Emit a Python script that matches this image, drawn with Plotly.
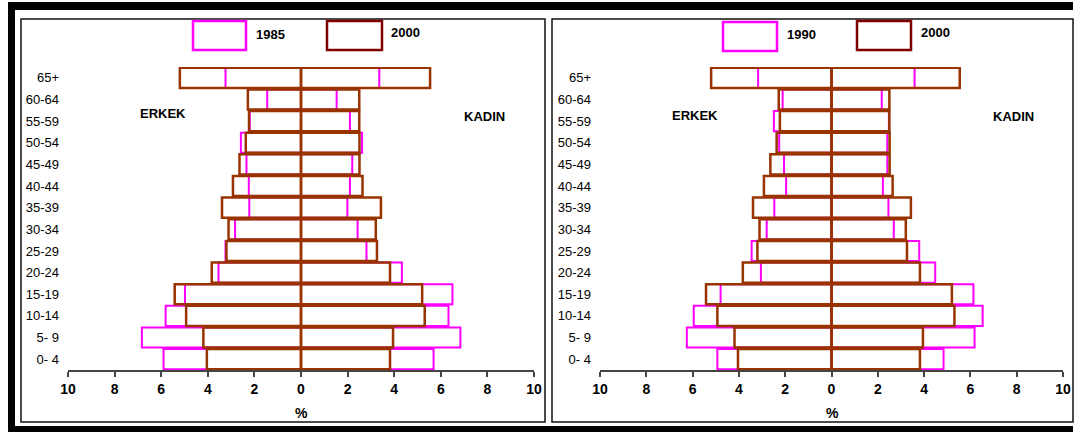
import plotly.graph_objects as go

ages = ["0- 4", "5- 9", "10-14", "15-19", "20-24", "25-29", "30-34",
        "35-39", "40-44", "45-49", "50-54", "55-59", "60-64", "65+"]
x_tick_vals = [-10, -8, -6, -4, -2, 0, 2, 4, 6, 8, 10]
x_tick_text = ["10", "8", "6", "4", "2", "0", "2", "4", "6", "8", "10"]

male_1985 = [5.90, 6.83, 5.81, 4.98, 3.54, 3.24, 2.83, 2.22, 2.24, 2.34, 2.58, 2.20, 1.45, 3.24]
female_1985 = [5.69, 6.84, 6.33, 6.50, 4.33, 2.81, 2.43, 1.99, 2.10, 2.20, 2.62, 2.10, 1.53, 3.36]
male_1990 = [4.93, 6.25, 5.95, 4.79, 3.05, 3.45, 2.80, 2.47, 1.96, 2.05, 2.26, 2.49, 2.11, 3.17]
female_1990 = [4.84, 6.18, 6.53, 6.13, 4.48, 3.79, 2.69, 2.46, 2.22, 2.41, 2.41, 2.48, 2.17, 3.59]
male_2000 = [4.04, 4.19, 4.93, 5.42, 3.83, 3.20, 3.11, 3.39, 2.92, 2.64, 2.37, 2.23, 2.28, 5.20]
female_2000 = [3.82, 3.95, 5.31, 5.20, 3.82, 3.26, 3.21, 3.43, 2.64, 2.51, 2.51, 2.50, 2.50, 5.54]

W, H = 1081, 432
MAGENTA = "#FF00FF"
BROWN = "#993300"
DARKRED = "#800000"
FONT = "Arial, Liberation Sans, sans-serif"

# the photographed page shows the figure in a 1065-px band starting 8 px in
OFF, K = 8.0, 1065.0 / 1081.0


def px(x):
    v = (x - OFF) / K / W
    return min(max(v, 0.0), 1.0)


def py(y):
    return 1 - y / H


fig = go.Figure()

panels = [
    ("x", "y", male_1985, female_1985, "1985"),
    ("x2", "y2", male_1990, female_1990, "1990"),
]

for xa, ya, m_old, f_old, label in panels:
    for vals, sign in ((m_old, -1), (f_old, 1)):
        fig.add_trace(go.Bar(
            y=ages, x=[sign * v for v in vals], orientation="h",
            xaxis=xa, yaxis=ya, width=0.93,
            marker=dict(color="rgba(0,0,0,0)", line=dict(color=MAGENTA, width=2)),
            name=label, showlegend=False, hoverinfo="x+y"))
    for vals, sign in ((male_2000, -1), (female_2000, 1)):
        fig.add_trace(go.Bar(
            y=ages, x=[sign * v for v in vals], orientation="h",
            xaxis=xa, yaxis=ya, width=0.93,
            marker=dict(color="rgba(0,0,0,0)", line=dict(color=BROWN, width=2.5)),
            name="2000", showlegend=False, hoverinfo="x+y"))

ydom = [py(370), py(67)]
xcommon = dict(range=[-10, 10], tickvals=x_tick_vals, ticktext=x_tick_text,
               showgrid=False, zeroline=False, showline=True, linecolor="#444",
               linewidth=1.5, ticks="outside", ticklen=5, tickcolor="#444",
               tickwidth=1.5,
               tickfont=dict(family=FONT, size=14, color="black", weight="bold"),
               fixedrange=True)
ycommon = dict(type="category", categoryorder="array", categoryarray=ages,
               range=[-0.5, 13.5], showgrid=False, zeroline=False, showline=False,
               ticks="", ticklabelstandoff=8,
               tickfont=dict(family=FONT, size=13, color="black"), fixedrange=True)

fig.update_layout(
    width=W, height=H, margin=dict(l=0, r=0, t=0, b=0),
    paper_bgcolor="white", plot_bgcolor="rgba(0,0,0,0)",
    barmode="overlay", showlegend=False,
    xaxis=dict(domain=[px(68), px(534)], anchor="y", **xcommon),
    yaxis=dict(domain=ydom, anchor="x", **ycommon),
    xaxis2=dict(domain=[px(600), px(1063)], anchor="y2", **xcommon),
    yaxis2=dict(domain=ydom, anchor="x2", **ycommon),
)

shapes = []


def rect(x0, y0, x1, y1, line=None, fill=None, lw=1):
    shapes.append(dict(type="rect", xref="paper", yref="paper",
                       x0=px(x0), x1=px(x1), y0=py(y0), y1=py(y1),
                       line=dict(color=line if line else "rgba(0,0,0,0)", width=lw),
                       fillcolor=fill if fill else "rgba(0,0,0,0)", layer="above"))


# outer frame
rect(7, 2, 1090, 10, fill="black")
rect(7, 2, 15, 432, fill="black")
rect(7, 426, 1090, 432, fill="black")
# panel frames
rect(21, 19, 545, 422, line="#111", lw=1.5)
rect(552, 19, 1074, 422, line="#111", lw=1.5)
# legend swatches
rect(193, 21, 246, 50, line=MAGENTA, lw=2.5)
rect(327, 21, 382, 50, line=DARKRED, lw=2.5)
rect(723, 22, 777, 51, line=MAGENTA, lw=2.5)
rect(857, 21, 911, 50, line=DARKRED, lw=2.5)
fig.update_layout(shapes=shapes)

annots = []


def text(x, y, s, size=13, bold=True):
    annots.append(dict(xref="paper", yref="paper", x=px(x), y=py(y), text=s,
                       showarrow=False, xanchor="center", yanchor="middle",
                       font=dict(family=FONT, size=size, color="black",
                                 weight="bold" if bold else "normal")))


text(270, 34, "1985")
text(405, 33, "2000")
text(801, 35, "1990")
text(935, 33, "2000")
text(163, 114, "ERKEK")
text(484, 116, "KADIN")
text(695, 115, "ERKEK")
text(1013, 116, "KADIN")
text(301, 413, "%", size=14)
text(832, 413, "%", size=14)
fig.update_layout(annotations=annots)

page_fix = (
    "var h=document.documentElement,b=document.body;"
    "h.style.margin='0';h.style.padding='0';h.style.overflow='hidden';"
    "b.style.margin='0';b.style.padding='0';b.style.overflow='hidden';"
    "var g=document.getElementById('{plot_id}');"
    "g.style.position='fixed';g.style.left='0px';g.style.top='0px';"
)

fig.write_html("out.html", config={"displayModeBar": False}, post_script=page_fix)
